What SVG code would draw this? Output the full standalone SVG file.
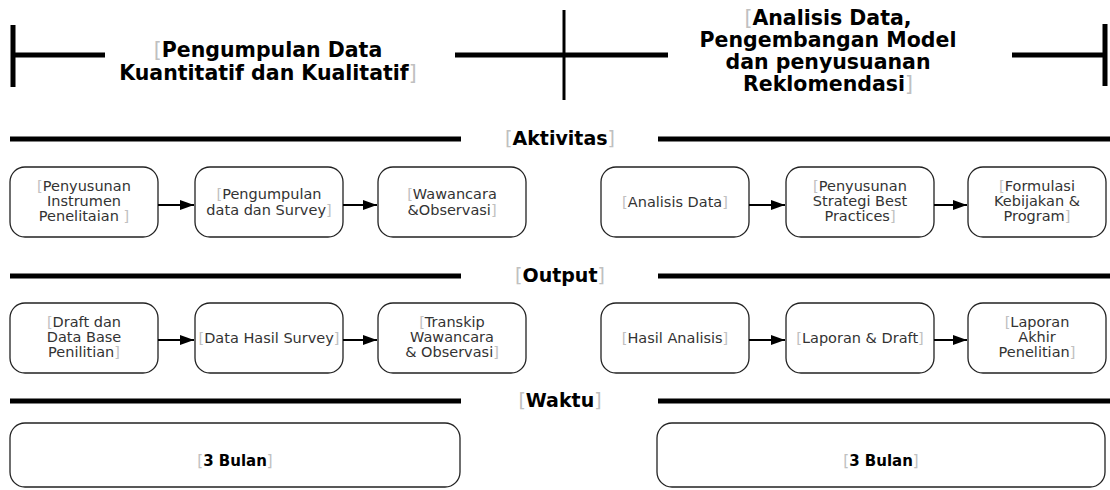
<svg xmlns="http://www.w3.org/2000/svg" width="1110" height="490" viewBox="0 0 1110 490">
<style>
.bar{stroke:#000;stroke-width:5;fill:none}
.thin{stroke:#000;stroke-width:3;fill:none}
.box{fill:#fff;stroke:#222;stroke-width:1.3}
.t{font-family:"DejaVu Sans",sans-serif;font-size:14.5px;fill:#333;text-anchor:middle}
.ti{font-family:"DejaVu Sans",sans-serif;font-size:20.5px;font-weight:bold;fill:#000;text-anchor:middle}
.h{font-family:"DejaVu Sans",sans-serif;font-size:19px;font-weight:bold;fill:#000;text-anchor:middle}
.b{font-family:"DejaVu Sans",sans-serif;font-size:15px;font-weight:bold;fill:#000;text-anchor:middle}
.k{fill:#c0c0c0;font-weight:normal}
.arr{stroke:#000;stroke-width:2;fill:none;marker-end:url(#ah)}
</style>
<defs>
<marker id="ah" viewBox="0 0 14 10" refX="14" refY="5" markerWidth="7" markerHeight="5" markerUnits="strokeWidth" orient="auto">
<path d="M0,0 L14,5 L0,10 Z" fill="#000"/>
</marker>
</defs>

<g id="timeline">
<line class="bar" x1="13" y1="25" x2="13" y2="87"/>
<line class="bar" x1="13" y1="55" x2="105" y2="55"/>
<line class="bar" x1="455" y1="55" x2="668" y2="55"/>
<line class="thin" x1="564" y1="10" x2="564" y2="100"/>
<line class="bar" x1="1012" y1="55" x2="1105" y2="55"/>
<line class="bar" x1="1105" y1="24" x2="1105" y2="86"/>
</g>

<g id="phase1">
<text class="ti" x="268" y="57"><tspan class="k">[</tspan>Pengumpulan Data</text>
<text class="ti" x="268" y="80">Kuantitatif dan Kualitatif<tspan class="k">]</tspan></text>
</g>
<g id="phase2">
<text class="ti" x="828" y="25"><tspan class="k">[</tspan>Analisis Data,</text>
<text class="ti" x="828" y="47">Pengembangan Model</text>
<text class="ti" x="828" y="69">dan penyusuanan</text>
<text class="ti" x="828" y="91">Reklomendasi<tspan class="k">]</tspan></text>
</g>

<g id="hdr-aktivitas">
<line class="bar" x1="10" y1="139" x2="461" y2="139"/>
<line class="bar" x1="658" y1="139" x2="1110" y2="139"/>
<text class="h" x="560" y="145"><tspan class="k">[</tspan>Aktivitas<tspan class="k">]</tspan></text>
</g>
<g id="hdr-output">
<line class="bar" x1="10" y1="276" x2="461" y2="276"/>
<line class="bar" x1="658" y1="276" x2="1110" y2="276"/>
<text class="h" x="560" y="282"><tspan class="k">[</tspan>Output<tspan class="k">]</tspan></text>
</g>
<g id="hdr-waktu">
<line class="bar" x1="10" y1="401" x2="461" y2="401"/>
<line class="bar" x1="658" y1="401" x2="1110" y2="401"/>
<text class="h" x="560" y="407"><tspan class="k">[</tspan>Waktu<tspan class="k">]</tspan></text>
</g>

<g id="a1"><rect class="box" x="10" y="167" width="148" height="70" rx="15"/>
<text class="t" x="84" y="191"><tspan class="k">[</tspan>Penyusunan</text>
<text class="t" x="84" y="206">Instrumen</text>
<text class="t" x="84" y="221">Penelitaian <tspan class="k">]</tspan></text></g>
<g id="a2"><rect class="box" x="195" y="167" width="148" height="70" rx="15"/>
<text class="t" x="269" y="199"><tspan class="k">[</tspan>Pengumpulan</text>
<text class="t" x="269" y="215">data dan Survey<tspan class="k">]</tspan></text></g>
<g id="a3"><rect class="box" x="378" y="167" width="148" height="70" rx="15"/>
<text class="t" x="452" y="199"><tspan class="k">[</tspan>Wawancara</text>
<text class="t" x="452" y="215">&amp;Observasi<tspan class="k">]</tspan></text></g>
<g id="a4"><rect class="box" x="601" y="167" width="148" height="70" rx="15"/>
<text class="t" x="675" y="207"><tspan class="k">[</tspan>Analisis Data<tspan class="k">]</tspan></text></g>
<g id="a5"><rect class="box" x="786" y="167" width="148" height="70" rx="15"/>
<text class="t" x="860" y="191"><tspan class="k">[</tspan>Penyusunan</text>
<text class="t" x="860" y="206">Strategi Best</text>
<text class="t" x="860" y="221">Practices<tspan class="k">]</tspan></text></g>
<g id="a6"><rect class="box" x="968" y="167" width="138" height="70" rx="15"/>
<text class="t" x="1037" y="191"><tspan class="k">[</tspan>Formulasi</text>
<text class="t" x="1037" y="206">Kebijakan &amp;</text>
<text class="t" x="1037" y="221">Program<tspan class="k">]</tspan></text></g>

<g id="o1"><rect class="box" x="10" y="303" width="148" height="70" rx="15"/>
<text class="t" x="84" y="327"><tspan class="k">[</tspan>Draft dan</text>
<text class="t" x="84" y="342">Data Base</text>
<text class="t" x="84" y="357">Penilitian<tspan class="k">]</tspan></text></g>
<g id="o2"><rect class="box" x="195" y="303" width="148" height="70" rx="15"/>
<text class="t" x="269" y="343"><tspan class="k">[</tspan>Data Hasil Survey<tspan class="k">]</tspan></text></g>
<g id="o3"><rect class="box" x="378" y="303" width="148" height="70" rx="15"/>
<text class="t" x="452" y="327"><tspan class="k">[</tspan>Transkip</text>
<text class="t" x="452" y="342">Wawancara</text>
<text class="t" x="452" y="357">&amp; Observasi<tspan class="k">]</tspan></text></g>
<g id="o4"><rect class="box" x="601" y="303" width="148" height="70" rx="15"/>
<text class="t" x="675" y="343"><tspan class="k">[</tspan>Hasil Analisis<tspan class="k">]</tspan></text></g>
<g id="o5"><rect class="box" x="786" y="303" width="148" height="70" rx="15"/>
<text class="t" x="860" y="343"><tspan class="k">[</tspan>Laporan &amp; Draft<tspan class="k">]</tspan></text></g>
<g id="o6"><rect class="box" x="968" y="303" width="138" height="70" rx="15"/>
<text class="t" x="1037" y="327"><tspan class="k">[</tspan>Laporan</text>
<text class="t" x="1037" y="342">Akhir</text>
<text class="t" x="1037" y="357">Penelitian<tspan class="k">]</tspan></text></g>

<g id="w1"><rect class="box" x="10" y="423" width="450" height="64" rx="15"/>
<text class="b" x="235" y="466"><tspan class="k">[</tspan>3 Bulan<tspan class="k">]</tspan></text></g>
<g id="w2"><rect class="box" x="657" y="423" width="448" height="64" rx="15"/>
<text class="b" x="881" y="466"><tspan class="k">[</tspan>3 Bulan<tspan class="k">]</tspan></text></g>

<g id="connectors">
<line class="arr" x1="158" y1="205" x2="194" y2="205"/>
<line class="arr" x1="343" y1="205" x2="377" y2="205"/>
<line class="arr" x1="749" y1="205" x2="785" y2="205"/>
<line class="arr" x1="934" y1="205" x2="967" y2="205"/>
<line class="arr" x1="158" y1="340" x2="194" y2="340"/>
<line class="arr" x1="343" y1="340" x2="377" y2="340"/>
<line class="arr" x1="749" y1="340" x2="785" y2="340"/>
<line class="arr" x1="934" y1="340" x2="967" y2="340"/>
</g>
</svg>
